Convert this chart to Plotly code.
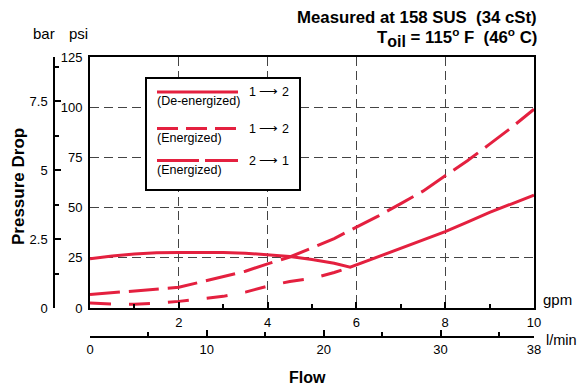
import plotly.graph_objects as go

# ---------------- data ----------------
gpm_deenergized = [0, 0.5, 1, 1.5, 2, 2.5, 3, 3.5, 4, 4.5, 5, 5.5, 5.86, 6.5, 7, 7.5, 8, 8.5, 9, 9.5, 10]
psi_deenergized = [24.5, 25.9, 26.9, 27.5, 27.7, 27.8, 27.7, 27.3, 26.6, 25.6, 24.2, 22.3, 20.3,
                   25.5, 29.7, 33.8, 38.0, 42.8, 47.6, 51.9, 56.2]

gpm_energized_a = [0, 0.5, 1, 1.5, 2, 2.5, 3, 3.5, 4, 4.5, 5, 5.5, 6, 6.5, 7, 7.5, 8, 8.5, 9, 9.5, 10]
psi_energized_a = [6.7, 7.6, 8.4, 9.2, 10.3, 13.0, 15.6, 18.3, 22.0, 25.4, 29.9, 34.6, 40.3,
                   45.9, 52.0, 58.2, 65.9, 73.3, 81.6, 90.0, 99.0]

gpm_energized_b = [0, 0.5, 1, 1.5, 2, 2.5, 3, 3.5, 4, 4.5, 5, 5.5, 5.86]
psi_energized_b = [2.5, 2.0, 1.9, 2.3, 3.3, 4.6, 5.8, 7.9, 10.9, 13.2, 14.7, 17.7, 20.3]

gpm_ticks = [2, 4, 6, 8, 10]
psi_ticks = [0, 25, 50, 75, 100, 125]
bar_ticks = [0, 2.5, 5, 7.5]
lmin_ticks = [0, 10, 20, 30, 38]

title1 = "Measured at 158 SUS  (34 cSt)"
title2 = ("T<sub><span style='font-size:16px'>oil</span></sub> = 115<sup>o</sup> F  "
          "(46<sup>o</sup> C)")

RED = "#e4203f"
GRID = "#444444"
FONT = "Liberation Sans, Arial, sans-serif"

# ---------------- geometry helpers (reference pixels -> paper) ----------------
WIDTH, HEIGHT = 584, 386
L, R, T, B = 40, 534, 57, 337
PW, PH = R - L, B - T


def px(x):
    return (x - L) / PW


def py(y):
    return (B - y) / PH


x_dom = [px(90), 1]
y_dom = [py(308), 1]

fig = go.Figure()

fig.add_trace(go.Scatter(x=gpm_deenergized, y=psi_deenergized, mode="lines",
                         line=dict(color=RED, width=3), name="De-energized 1→2",
                         showlegend=False, hoverinfo="skip"))
fig.add_trace(go.Scatter(x=gpm_energized_a, y=psi_energized_a, mode="lines",
                         line=dict(color=RED, width=3, dash="30px,9px"), name="Energized 2→1",
                         showlegend=False, hoverinfo="skip"))
fig.add_trace(go.Scatter(x=gpm_energized_b, y=psi_energized_b, mode="lines",
                         line=dict(color=RED, width=3, dash="21px,18px"), name="Energized 1→2",
                         showlegend=False, hoverinfo="skip"))
# dummy trace to activate secondary axes
fig.add_trace(go.Scatter(x=[None], y=[None], xaxis="x2", yaxis="y2", showlegend=False,
                         hoverinfo="skip"))

tickfont = dict(family=FONT, size=13, color="black")

fig.update_layout(
    width=WIDTH, height=HEIGHT,
    margin=dict(l=L, r=WIDTH - R, t=T, b=HEIGHT - B, pad=0),
    paper_bgcolor="white", plot_bgcolor="white",
    showlegend=False,
    font=dict(family=FONT, color="black"),
    xaxis=dict(domain=x_dom, anchor="y", range=[0, 10], tickvals=gpm_ticks,
               ticktext=[str(v) for v in gpm_ticks],
               showgrid=True, gridcolor=GRID, gridwidth=1.2, griddash="9px,5px",
               showline=True, mirror=True, linecolor="black", linewidth=2,
               ticks="inside", ticklen=6, tickwidth=2, tickcolor="black",
               minor=dict(dtick=1, tick0=0, ticks="inside", ticklen=4, tickwidth=2,
                          tickcolor="black", showgrid=False),
               zeroline=False, tickfont=tickfont, ticklabelstandoff=1),
    yaxis=dict(domain=y_dom, anchor="x", range=[0, 125], tickvals=psi_ticks,
               showgrid=True, gridcolor=GRID, gridwidth=1.2, griddash="9px,5px",
               showline=True, mirror=True, linecolor="black", linewidth=2,
               ticks="", zeroline=False, tickfont=tickfont, ticklabelstandoff=3),
    xaxis2=dict(domain=x_dom, anchor="free", position=0, overlaying="x", side="bottom",
                range=[0, 38], tickvals=lmin_ticks, ticktext=[str(v) for v in lmin_ticks],
                showgrid=False, zeroline=False, showline=True, linecolor="black", linewidth=1.5,
                ticks="inside", ticklen=6, tickwidth=1.5, tickcolor="black",
                minor=dict(dtick=5, tick0=0, ticks="inside", ticklen=4, tickwidth=1.5,
                           tickcolor="black", showgrid=False),
                tickfont=tickfont, ticklabelstandoff=1),
    yaxis2=dict(domain=y_dom, anchor="free", position=px(54), overlaying="y", side="left",
                range=[0, 9.1], tickvals=bar_ticks + [9.1], ticktext=["0", "2.5", "5", "7.5", ""],
                showgrid=False, zeroline=False, showline=True, linecolor="black", linewidth=1.5,
                ticks="inside", ticklen=6, tickwidth=1.5, tickcolor="black",
                minor=dict(dtick=1.25, tick0=0, ticks="inside", ticklen=4, tickwidth=1.5,
                           tickcolor="black", showgrid=False),
                tickfont=tickfont, ticklabelstandoff=3),
)

shapes = []
# legend box
shapes.append(dict(type="rect", xref="paper", yref="paper", x0=px(146), x1=px(300),
                   y0=py(190), y1=py(78), fillcolor="white", line=dict(color="black", width=2),
                   layer="above"))
legend_rows = [
    (92, "solid", "(De-energized)", "1 ⟶ 2"),
    (128.5, "21px,8px", "(Energized)", "1 ⟶ 2"),
    (160.5, "42px,6px", "(Energized)", "2 ⟶ 1"),
]
annotations = []
for y, dash, lab, arrow in legend_rows:
    shapes.append(dict(type="line", xref="paper", yref="paper", x0=px(157), x1=px(238),
                       y0=py(y), y1=py(y), line=dict(color=RED, width=3, dash=dash),
                       layer="above"))
    annotations.append(dict(x=px(155), y=py(y + 9), xref="paper", yref="paper", text=lab,
                            showarrow=False, xanchor="left", yanchor="middle",
                            font=dict(family=FONT, size=12.5, color="black")))
    annotations.append(dict(x=px(269), y=py(y), xref="paper", yref="paper", text=arrow,
                            showarrow=False, xanchor="center", yanchor="middle",
                            font=dict(family=FONT, size=12.5, color="black")))

annotations += [
    dict(x=px(538), y=py(17), xref="paper", yref="paper", text="<b>" + title1 + "</b>",
         showarrow=False, xanchor="right", yanchor="middle", borderpad=0,
         font=dict(family=FONT, size=16.8, color="black")),
    dict(x=px(538), y=py(37), xref="paper", yref="paper", text="<b>" + title2 + "</b>",
         showarrow=False, xanchor="right", yanchor="middle", borderpad=0,
         font=dict(family=FONT, size=16.8, color="black")),
    dict(x=px(44), y=py(33), xref="paper", yref="paper", text="bar", showarrow=False,
         xanchor="center", yanchor="middle", font=dict(family=FONT, size=15, color="black")),
    dict(x=px(78), y=py(33), xref="paper", yref="paper", text="psi", showarrow=False,
         xanchor="center", yanchor="middle", font=dict(family=FONT, size=15, color="black")),
    dict(x=px(18), y=py(187), xref="paper", yref="paper", text="<b>Pressure Drop</b>",
         showarrow=False, textangle=-90, xanchor="center", yanchor="middle",
         font=dict(family=FONT, size=17, color="black")),
    dict(x=px(307), y=py(377.5), xref="paper", yref="paper", text="<b>Flow</b>",
         showarrow=False, xanchor="center", yanchor="middle",
         font=dict(family=FONT, size=16, color="black")),
    dict(x=px(541), y=py(299), xref="paper", yref="paper", text="gpm", showarrow=False,
         xanchor="left", yanchor="middle", font=dict(family=FONT, size=15, color="black")),
    dict(x=px(544), y=py(340), xref="paper", yref="paper", text="l/min", showarrow=False,
         xanchor="left", yanchor="middle", font=dict(family=FONT, size=14.5, color="black")),
]

fig.update_layout(shapes=shapes, annotations=annotations)
fig.write_html("out.html", config={"displayModeBar": False},
               post_script="document.body.style.margin='0px';"
                           "document.documentElement.style.overflow='hidden';")
